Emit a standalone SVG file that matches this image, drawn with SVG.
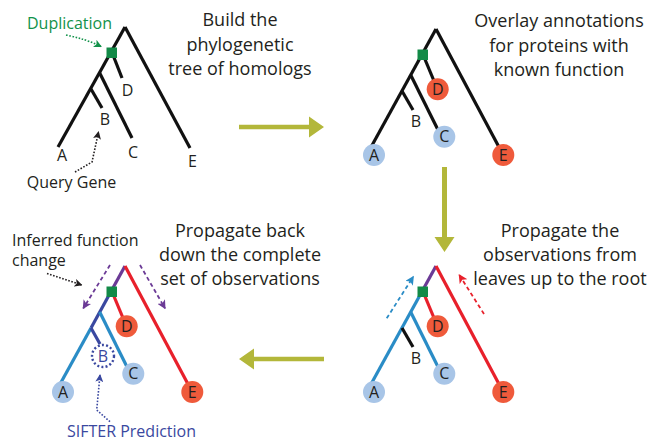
<svg xmlns="http://www.w3.org/2000/svg" width="653" height="444" viewBox="0 0 653 444">
<defs>
<style>
text{font-family:"Open Sans","Liberation Sans",sans-serif;fill:#231f20}
.title{font-size:18px;text-anchor:middle}
.note{font-size:16px}
.lbl{font-size:16px;text-anchor:middle}
.br{fill:none;stroke-width:3.2;stroke-linecap:butt}
.k{stroke:#111}
.pu{stroke:#6b3a96}
.bl{stroke:#2a8cc6}
.db{stroke:#3a48a0}
.rd{stroke:#e8202b}
.sq{fill:#128a47}
.cb{fill:#a8c5e7}
.cr{fill:#ef5a3b}
.olive{fill:#b3b73a;stroke:none}
.dot{fill:none;stroke-width:1.6;stroke-dasharray:1.6 1.6}
.dash{fill:none;stroke-width:1.8;stroke-dasharray:4 3}
</style>
<marker id="mk" viewBox="0 0 8 8" refX="7" refY="4" markerWidth="8" markerHeight="8" markerUnits="userSpaceOnUse" orient="auto"><path d="M0,0 L8,4 L0,8 L2,4 Z" fill="#231f20"/></marker>
<marker id="mg" viewBox="0 0 8 8" refX="7" refY="4" markerWidth="8" markerHeight="8" markerUnits="userSpaceOnUse" orient="auto"><path d="M0,0 L8,4 L0,8 L2,4 Z" fill="#12924a"/></marker>
<marker id="mdb" viewBox="0 0 8 8" refX="7" refY="4" markerWidth="8" markerHeight="8" markerUnits="userSpaceOnUse" orient="auto"><path d="M0,0 L8,4 L0,8 L2,4 Z" fill="#3a48a0"/></marker>
<marker id="mbl" viewBox="0 0 8 8" refX="7" refY="4" markerWidth="9" markerHeight="9" markerUnits="userSpaceOnUse" orient="auto"><path d="M0,0 L8,4 L0,8 L2,4 Z" fill="#2a8cc6"/></marker>
<marker id="mrd" viewBox="0 0 8 8" refX="7" refY="4" markerWidth="9" markerHeight="9" markerUnits="userSpaceOnUse" orient="auto"><path d="M0,0 L8,4 L0,8 L2,4 Z" fill="#e8202b"/></marker>
<marker id="mpu" viewBox="0 0 8 8" refX="7" refY="4" markerWidth="9" markerHeight="9" markerUnits="userSpaceOnUse" orient="auto"><path d="M0,0 L8,4 L0,8 L2,4 Z" fill="#6b3a96"/></marker>
</defs>

<!-- Titles -->
<g id="title1"><text class="title" x="240" y="26">Build the</text><text class="title" x="240" y="50.5">phylogenetic</text><text class="title" x="240" y="75">tree of homologs</text></g>
<g id="title2"><text class="title" x="559" y="27">Overlay annotations</text><text class="title" x="559" y="51.5">for proteins with</text><text class="title" x="559" y="76">known function</text></g>
<g id="title3"><text class="title" x="240" y="237">Propagate back</text><text class="title" x="240" y="261">down the complete</text><text class="title" x="240" y="285">set of observations</text></g>
<g id="title4"><text class="title" x="560" y="237">Propagate the</text><text class="title" x="560" y="261">observations from</text><text class="title" x="560" y="285">leaves up to the root</text></g>

<!-- Tree 1 -->
<g id="tree1" transform="translate(125,27)">
<g class="br k">
<path d="M0,0 L-67,120"/><path d="M0,0 L65,121"/><path d="M-12,28 L-3,51"/><path d="M-25.3,46 L7,111"/><path d="M-34,62 L-23,81"/>
</g>
<rect id="dup1" class="sq" x="-18.5" y="20.5" width="10.5" height="10.5"/>
<g id="t1A"><text class="lbl" x="-63" y="133.5">A</text></g>
<g id="t1B"><text class="lbl" x="-20" y="97.5">B</text></g>
<g id="t1C"><text class="lbl" x="8" y="130.5">C</text></g>
<g id="t1D"><text class="lbl" x="2.5" y="68.5">D</text></g>
<g id="t1E"><text class="lbl" x="67.5" y="139.5">E</text></g>
</g>
<g id="dupNote"><text class="note" x="27" y="29.3" style="fill:#12924a">Duplication</text></g>
<g id="queryNote"><text class="note" x="71.5" y="188.3" style="text-anchor:middle">Query Gene</text></g>

<!-- Tree 2 -->
<g id="tree2" transform="translate(436,29)">
<g class="br k">
<path d="M0,0 L-66,120"/><path d="M0,0 L64,120"/><path d="M-12,28 L-2,52"/><path d="M-25.3,46 L7,111"/><path d="M-34,62 L-23,81"/>
</g>
<rect class="sq" x="-18.5" y="20.5" width="10.5" height="10.5"/>
<g id="t2A"><circle class="cb" cx="-62" cy="126" r="11"/><text class="lbl" x="-62" y="131.5">A</text></g>
<g id="t2B"><text class="lbl" x="-20" y="98">B</text></g>
<g id="t2C"><circle class="cb" cx="8.3" cy="107.7" r="11"/><text class="lbl" x="8.3" y="113.2">C</text></g>
<g id="t2D"><circle class="cr" cx="1.7" cy="60.3" r="11"/><text class="lbl" x="1.7" y="65.8">D</text></g>
<g id="t2E"><circle class="cr" cx="67.3" cy="126" r="11"/><text class="lbl" x="67.3" y="131.5">E</text></g>
</g>

<!-- Tree 3 -->
<g id="tree3" transform="translate(436,266)">
<path class="br pu" d="M0,0 L-14,25.5"/>
<path class="br bl" d="M-14,25.5 L-66,120"/>
<path class="br rd" d="M0,0 L64,120"/>
<path class="br rd" d="M-12,28 L-2,52"/>
<path class="br bl" d="M-25.3,46 L7,111"/>
<path class="br k" d="M-34,62 L-23,81"/>
<rect class="sq" x="-18.5" y="20.5" width="10.5" height="10.5"/>
<g id="t3A"><circle class="cb" cx="-62" cy="126" r="11"/><text class="lbl" x="-62" y="131.5">A</text></g>
<g id="t3B"><text class="lbl" x="-20" y="97.5">B</text></g>
<g id="t3C"><circle class="cb" cx="8.3" cy="107.7" r="11"/><text class="lbl" x="8.3" y="113.2">C</text></g>
<g id="t3D"><circle class="cr" cx="1.7" cy="60.3" r="11"/><text class="lbl" x="1.7" y="65.8">D</text></g>
<g id="t3E"><circle class="cr" cx="67.3" cy="126" r="11"/><text class="lbl" x="67.3" y="131.5">E</text></g>
</g>

<!-- Tree 4 -->
<g id="tree4" transform="translate(125,266)">
<path class="br pu" d="M0,0 L-14,25.5"/>
<path class="br db" d="M-14,25.5 L-34,62"/>
<path class="br bl" d="M-34,62 L-66,120"/>
<path class="br rd" d="M0,0 L64,120"/>
<path class="br rd" d="M-12,28 L-2,52"/>
<path class="br bl" d="M-25.3,46 L7,111"/>
<path class="br db" d="M-34,62 L-25,78"/>
<rect class="sq" x="-18.5" y="20.5" width="10.5" height="10.5"/>
<g id="t4A"><circle class="cb" cx="-62" cy="126" r="11"/><text class="lbl" x="-62" y="131.5">A</text></g>
<g id="t4B"><circle cx="-22" cy="90" r="11" fill="#fff" stroke="#3a48a0" stroke-width="2.4" stroke-dasharray="2 2.2"/><text class="lbl" x="-22" y="95.5" style="fill:#3a48a0">B</text></g>
<g id="t4C"><circle class="cb" cx="8.3" cy="107.7" r="11"/><text class="lbl" x="8.3" y="113.2">C</text></g>
<g id="t4D"><circle class="cr" cx="1.7" cy="60.3" r="11"/><text class="lbl" x="1.7" y="65.8">D</text></g>
<g id="t4E"><circle class="cr" cx="67.3" cy="126" r="11"/><text class="lbl" x="67.3" y="131.5">E</text></g>
</g>
<g id="inferNote"><text class="note" x="12" y="246">Inferred function</text><text class="note" x="12" y="266">change</text></g>
<g id="sifterNote"><text class="note" x="131.5" y="436.7" style="text-anchor:middle;fill:#3a48a0">SIFTER Prediction</text></g>

<!-- Connectors -->
<g id="connectors">
<path class="olive" d="M239,124.7 H309 V116.5 L324,127 L309,137.5 V129.3 H239 Z"/>
<path class="olive" d="M442,167 V237 H434.5 L444.5,252 L454.5,237 H447 V167 Z"/>
<path class="olive" d="M324,356.7 H254 V348.5 L239,359 L254,369.5 V361.3 H324 Z"/>
<path class="dot" stroke="#12924a" d="M66,35 Q86,39 101,46.5" marker-end="url(#mg)"/>
<path class="dot" stroke="#231f20" d="M75,172 L92,162 L98.5,132" marker-end="url(#mk)"/>
<path class="dot" stroke="#231f20" d="M47,273.5 L81.5,285" marker-end="url(#mk)"/>
<path class="dot" stroke="#3a48a0" d="M110,421.7 L96.7,410 L100,375" marker-end="url(#mdb)"/>
<path class="dash" stroke="#2a8cc6" d="M386.7,318.3 L413.3,276.7" marker-end="url(#mbl)"/>
<path class="dash" stroke="#e8202b" d="M484,314 L459.3,275" marker-end="url(#mrd)"/>
<path class="dash" stroke="#6b3a96" d="M110,265 L83.3,308.3" marker-end="url(#mpu)"/>
<path class="dash" stroke="#6b3a96" d="M140,265 L165,308.3" marker-end="url(#mpu)"/>
</g>
</svg>
